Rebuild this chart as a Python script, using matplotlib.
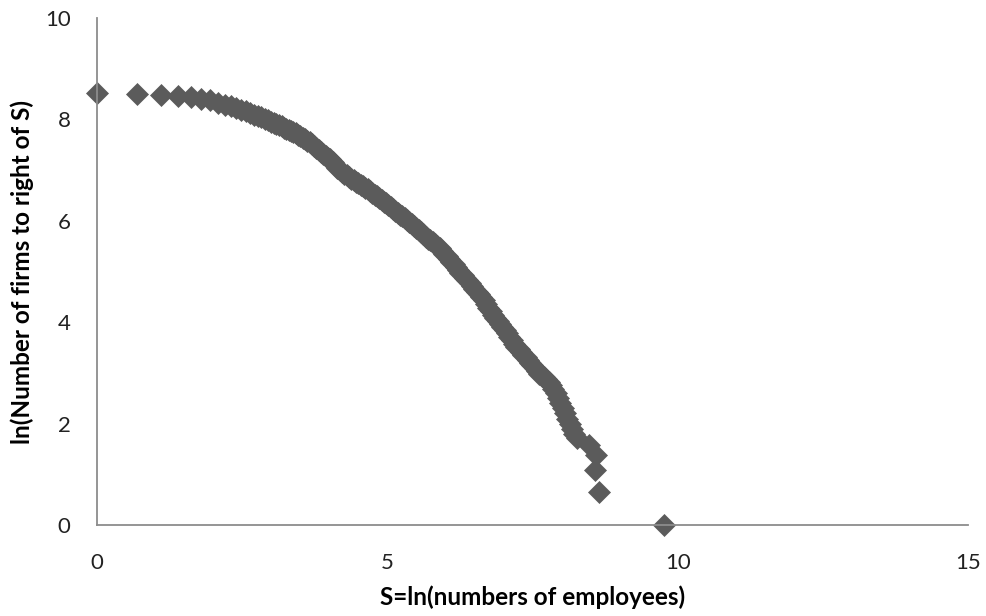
import numpy as np
import matplotlib.pyplot as plt

# log firm size vs log number of firms at least that large
ln_size = [
    0.00, 0.69, 1.10, 1.39, 1.61, 1.79, 1.95, 2.08, 2.20, 2.30,
    2.40, 2.48, 2.56, 2.64, 2.71, 2.77, 2.83, 2.89, 2.94, 3.00,
    3.05, 3.09, 3.14, 3.18, 3.22, 3.26, 3.30, 3.34, 3.38, 3.42,
    3.46, 3.50, 3.54, 3.58, 3.62, 3.66, 3.70, 3.74, 3.78, 3.82,
    3.86, 3.90, 3.94, 3.98, 4.02, 4.06, 4.10, 4.14, 4.18, 4.22,
    4.26, 4.30, 4.34, 4.38, 4.42, 4.46, 4.50, 4.54, 4.58, 4.62,
    4.66, 4.70, 4.74, 4.78, 4.82, 4.86, 4.90, 4.94, 4.98, 5.02,
    5.06, 5.10, 5.14, 5.18, 5.22, 5.26, 5.30, 5.34, 5.38, 5.42,
    5.46, 5.50, 5.54, 5.58, 5.62, 5.66, 5.70, 5.74, 5.78, 5.82,
    5.86, 5.90, 5.94, 5.98, 6.02, 6.06, 6.10, 6.14, 6.18, 6.22,
    6.26, 6.30, 6.34, 6.38, 6.42, 6.46, 6.50, 6.54, 6.58, 6.62,
    6.66, 6.70, 6.74, 6.78, 6.82, 6.86, 6.90, 6.94, 6.98, 7.02,
    7.06, 7.10, 7.14, 7.18, 7.22, 7.26, 7.30, 7.34, 7.38, 7.42,
    7.46, 7.50, 7.54, 7.58, 7.62, 7.66, 7.70, 7.74, 7.78, 7.82,
    7.86, 7.90, 7.94, 7.98, 8.02, 8.06, 8.10, 8.14, 8.18, 8.22,
    8.26, 8.48, 8.60, 8.57, 8.64, 9.77,
]
ln_firms = [
    8.53, 8.51, 8.49, 8.46, 8.44, 8.41, 8.38, 8.33, 8.29, 8.26,
    8.22, 8.19, 8.16, 8.12, 8.09, 8.06, 8.04, 8.01, 7.98, 7.95,
    7.93, 7.91, 7.88, 7.86, 7.84, 7.82, 7.80, 7.78, 7.75, 7.73,
    7.70, 7.67, 7.64, 7.61, 7.58, 7.55, 7.52, 7.48, 7.44, 7.40,
    7.36, 7.32, 7.28, 7.24, 7.21, 7.16, 7.11, 7.05, 7.00, 6.96,
    6.93, 6.90, 6.86, 6.83, 6.80, 6.77, 6.74, 6.71, 6.68, 6.65,
    6.62, 6.58, 6.55, 6.51, 6.48, 6.45, 6.41, 6.38, 6.35, 6.31,
    6.27, 6.23, 6.20, 6.16, 6.12, 6.09, 6.05, 6.01, 5.97, 5.94,
    5.90, 5.86, 5.82, 5.77, 5.73, 5.69, 5.65, 5.62, 5.58, 5.54,
    5.50, 5.46, 5.41, 5.35, 5.30, 5.25, 5.19, 5.14, 5.08, 5.03,
    4.98, 4.93, 4.88, 4.83, 4.77, 4.72, 4.66, 4.60, 4.55, 4.49,
    4.43, 4.36, 4.29, 4.22, 4.15, 4.09, 4.02, 3.96, 3.90, 3.84,
    3.78, 3.71, 3.65, 3.58, 3.52, 3.47, 3.42, 3.36, 3.31, 3.25,
    3.20, 3.15, 3.09, 3.04, 2.98, 2.94, 2.91, 2.87, 2.83, 2.76,
    2.68, 2.60, 2.50, 2.40, 2.30, 2.20, 2.09, 1.99, 1.89, 1.79,
    1.72, 1.58, 1.38, 1.08, 0.66, 0.00,
]

x_ticks = [0, 5, 10, 15]
y_ticks = [0, 2, 4, 6, 8, 10]

plt.rcParams['font.family'] = ['Lato', 'DejaVu Sans']

fig = plt.figure(figsize=(9.87, 6.16), dpi=100)
ax = fig.add_axes([0.0983, 0.1477, 0.8824, 0.8231])

ax.plot(ln_size, ln_firms, linestyle='none', marker='D', markersize=11,
        color='#5b5b5b', markeredgewidth=0.5, clip_on=False)

ax.set_xlim(0, 15)
ax.set_ylim(0, 10)
ax.set_xticks(x_ticks)
ax.set_yticks(y_ticks)

for side in ['top', 'right']:
    ax.spines[side].set_visible(False)
for side in ['left', 'bottom']:
    ax.spines[side].set_color('#8c8c8c')
    ax.spines[side].set_linewidth(1.3)

ax.tick_params(axis='x', length=0, pad=20, labelsize=16, labelcolor='#222222')
ax.tick_params(axis='y', length=0, pad=19, labelsize=16, labelcolor='#222222')

ax.set_xlabel('S=ln(numbers of employees)', fontsize=17.5, fontweight='bold', labelpad=9)
ax.set_ylabel('ln(Number of firms to right of S)', fontsize=17.5, fontweight='bold', labelpad=8)

plt.savefig('out.png', dpi=100)
